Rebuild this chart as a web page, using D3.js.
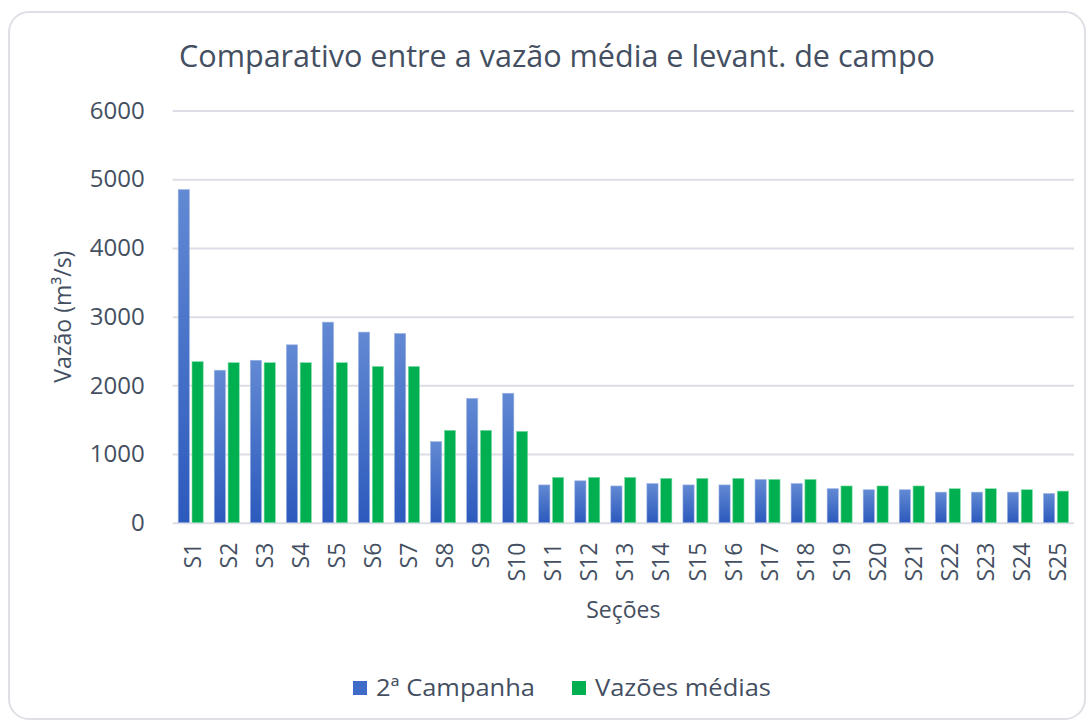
<!DOCTYPE html>
<html>
<head>
<meta charset="utf-8">
<script src="https://cdn.jsdelivr.net/npm/d3@7"></script>
<style>
    html, body { margin: 0; padding: 0; background: #ffffff; }
    svg { display: block; }
    text { font-family: 'Open Sans', 'Noto Sans', sans-serif; fill: #444f62; }
</style>
</head>
<body>
<div id="chart"></div>
<script>
'use strict';

var secoes = ['S1', 'S2', 'S3', 'S4', 'S5', 'S6', 'S7', 'S8', 'S9', 'S10', 'S11', 'S12', 'S13',
    'S14', 'S15', 'S16', 'S17', 'S18', 'S19', 'S20', 'S21', 'S22', 'S23', 'S24', 'S25'];

var campanha = [4850, 2220, 2365, 2590, 2920, 2775, 2755, 1180, 1810, 1885, 550, 610, 535,
    570, 550, 550, 630, 570, 495, 480, 480, 445, 445, 445, 425];

var medias = [2345, 2330, 2330, 2330, 2330, 2275, 2275, 1345, 1345, 1330, 660, 660, 660,
    645, 645, 645, 630, 630, 535, 535, 535, 495, 495, 480, 460];

var seriesNames = ['2ª Campanha', 'Vazões médias'];
var yTicks = [0, 1000, 2000, 3000, 4000, 5000, 6000];

var width = 1088;
var height = 722;
var plot = { left: 172.7, right: 1074, top: 110.6, bottom: 522.7 };

var svg = d3.select('#chart')
    .append('svg')
    .attr('width', width)
    .attr('height', height);

var defs = svg.append('defs');
var grad = defs.append('linearGradient')
    .attr('id', 'blueGrad')
    .attr('x1', 0).attr('y1', 0).attr('x2', 0).attr('y2', 1);
grad.append('stop').attr('offset', '0%').attr('stop-color', '#6289d3');
grad.append('stop').attr('offset', '100%').attr('stop-color', '#2c5abd');

// card
svg.append('rect')
    .attr('x', 9).attr('y', 12)
    .attr('width', 1076).attr('height', 707)
    .attr('rx', 20).attr('ry', 20)
    .style('fill', '#ffffff')
    .style('stroke', '#dfe0e6')
    .style('stroke-width', 2);

var x0 = d3.scaleBand()
    .domain(secoes)
    .range([plot.left, plot.right])
    .padding(0);

var x1 = d3.scaleBand()
    .domain(seriesNames)
    .range([5.5, 30.5])
    .paddingInner(0.19)
    .paddingOuter(0);

var y = d3.scaleLinear()
    .domain([0, 6000])
    .range([plot.bottom, plot.top]);

var color = d3.scaleOrdinal()
    .domain(seriesNames)
    .range(['url(#blueGrad)', '#00b050']);

var legendColor = d3.scaleOrdinal()
    .domain(seriesNames)
    .range(['#3f6cc9', '#00b050']);

// grid
svg.append('g')
    .attr('class', 'grid')
    .attr('transform', 'translate(' + plot.left + ',0)')
    .call(d3.axisLeft(y).tickValues(yTicks).tickSize(-(plot.right - plot.left)).tickFormat(''))
    .call(function (g) {
        g.select('.domain').remove();
        g.selectAll('line').style('stroke', '#dcdde6').style('stroke-width', 2);
    });

// y axis labels
svg.append('g')
    .attr('transform', 'translate(' + plot.left + ',0)')
    .call(d3.axisLeft(y).tickValues(yTicks).tickSize(0).tickPadding(28).tickFormat(d3.format('d')))
    .call(function (g) {
        g.select('.domain').remove();
        g.selectAll('text')
            .style('font-size', '24px')
            .style('fill', '#444f62');
    });

// bars
var rows = secoes.map(function (s, i) {
    return { secao: s, values: [
        { name: seriesNames[0], value: campanha[i] },
        { name: seriesNames[1], value: medias[i] }
    ] };
});

var groups = svg.append('g')
    .selectAll('g')
    .data(rows)
    .enter()
    .append('g')
    .attr('transform', function (d) { return 'translate(' + x0(d.secao) + ',0)'; });

groups.selectAll('rect')
    .data(function (d) { return d.values; })
    .enter()
    .append('rect')
    .attr('x', function (d) { return x1(d.name); })
    .attr('y', function (d) { return y(d.value); })
    .attr('width', x1.bandwidth())
    .attr('height', function (d) { return y(0) - y(d.value); })
    .style('fill', function (d) { return color(d.name); })
    .style('stroke', function (d) { return d.name === seriesNames[0] ? '#9db4e4' : '#7fdca8'; })
    .style('stroke-width', 0.6);

// x axis labels
svg.append('g')
    .attr('transform', 'translate(0,' + plot.bottom + ')')
    .call(d3.axisBottom(x0).tickSize(0))
    .call(function (g) {
        g.select('.domain').remove();
        g.selectAll('text')
            .attr('transform', 'rotate(-90)')
            .attr('text-anchor', 'end')
            .attr('x', -20)
            .attr('y', 2)
            .attr('dy', '0.35em')
            .style('font-size', '23px')
            .style('fill', '#444f62');
    });

// titles
svg.append('text')
    .attr('x', 179)
    .attr('y', 67)
    .attr('textLength', 756)
    .attr('lengthAdjust', 'spacingAndGlyphs')
    .style('font-size', '31px')
    .text('Comparativo entre a vazão média e levant. de campo');

svg.append('text')
    .attr('transform', 'translate(71,' + ((plot.top + plot.bottom) / 2) + ') rotate(-90)')
    .attr('text-anchor', 'middle')
    .style('font-size', '23px')
    .text('Vazão (m³/s)');

svg.append('text')
    .attr('x', (plot.left + plot.right) / 2)
    .attr('y', 618)
    .attr('text-anchor', 'middle')
    .style('font-size', '23px')
    .text('Seções');

// legend
var legendX = [353, 572];
var legendTextW = [159, 176];
var legend = svg.append('g')
    .selectAll('g')
    .data(seriesNames)
    .enter()
    .append('g')
    .attr('transform', function (d, i) { return 'translate(' + legendX[i] + ',681)'; });

legend.append('rect')
    .attr('width', 14)
    .attr('height', 14)
    .style('fill', function (d) { return legendColor(d); });

legend.append('text')
    .attr('x', 23)
    .attr('y', 15)
    .attr('textLength', function (d, i) { return legendTextW[i]; })
    .attr('lengthAdjust', 'spacingAndGlyphs')
    .style('font-size', '23px')
    .text(function (d) { return d; });
</script>
</body>
</html>
